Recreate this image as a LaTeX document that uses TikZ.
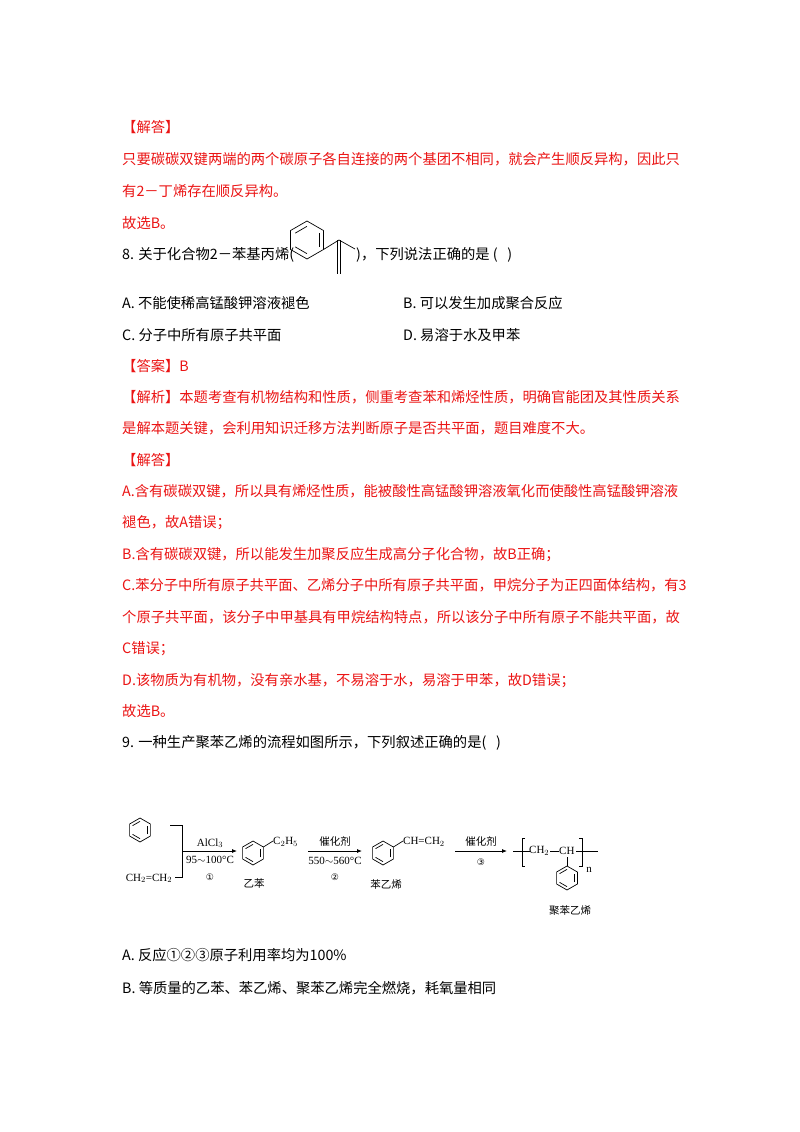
\documentclass[tikz,border=0pt]{standalone}
\usepackage{fontspec}
\setmainfont{Noto Sans CJK SC}
\newfontfamily\chemfont{Liberation Serif}
\newfontfamily\symfont{DejaVu Sans}
\usetikzlibrary{arrows.meta,calc}
\definecolor{ansred}{RGB}{235,20,20}
\tikzset{
  txt/.style={anchor=base west,inner sep=0,font=\fontsize{14.3}{16}\selectfont},
  rtxt/.style={txt,text=ansred},
  chem/.style={inner sep=0,font=\chemfont\fontsize{11}{12}\selectfont},
  circ/.style={inner sep=0,font=\symfont\fontsize{9}{10}\selectfont},
  cjks/.style={inner sep=0,font=\fontsize{10.5}{11}\selectfont},
  bond/.style={line width=0.7pt},
  rxn/.style={line width=0.8pt,-{Latex[length=5pt,width=4pt]}}
}
\newcommand{\benzring}[3]{% cx cy r, pointy top
  \draw[bond] (#1,#2)++(90:#3) -- ++(-30:#3) -- ++(-90:#3) -- ++(-150:#3) -- ++(150:#3) -- ++(90:#3) -- cycle;
  \draw[bond] ($(#1,#2)+(30:0.72*#3)$) -- ($(#1,#2)+(-30:0.72*#3)$);
  \draw[bond] ($(#1,#2)+(-90:0.72*#3)$) -- ($(#1,#2)+(-150:0.72*#3)$);
  \draw[bond] ($(#1,#2)+(150:0.72*#3)$) -- ($(#1,#2)+(90:0.72*#3)$);
}
\begin{document}
\begin{tikzpicture}[x=1pt,y=-1pt]
\useasboundingbox[fill=white] (0,0) rectangle (800,1132);
\node[rtxt] (l1) at (122,132) {【解答】};
\node[rtxt] (l2) at (122,164) {只要碳碳双键两端的两个碳原子各自连接的两个基团不相同，就会产生顺反异构，因此只};
\node[rtxt] (l3) at (122,196) {有2－丁烯存在顺反异构。};
\node[rtxt] (l4) at (122,228) {故选B。};
\node[txt] (q8a) at (122,259) {8. 关于化合物2－苯基丙烯(};
\node[txt] (q8b) at (356,259) {)，下列说法正确的是 (\ \ \ )};
\benzring{307}{240}{19}
\draw[bond] (323.5,249.5) -- (339,240) -- (355,249);
\draw[bond] (337.5,240) -- (337.5,274);
\draw[bond] (340.5,240) -- (340.5,274);
\node[txt] (oA) at (122,308) {A. 不能使稀高锰酸钾溶液褪色};
\node[txt] (oB) at (403,308) {B. 可以发生加成聚合反应};
\node[txt] (oC) at (122,340) {C. 分子中所有原子共平面};
\node[txt] (oD) at (403,340) {D. 易溶于水及甲苯};
\node[rtxt] (l5) at (122,371) {【答案】B};
\node[rtxt] (l6) at (122,402) {【解析】本题考查有机物结构和性质，侧重考查苯和烯烃性质，明确官能团及其性质关系};
\node[rtxt] (l7) at (122,433) {是解本题关键，会利用知识迁移方法判断原子是否共平面，题目难度不大。};
\node[rtxt] (l8) at (122,465) {【解答】};
\node[rtxt] (l9) at (122,496) {A.含有碳碳双键，所以具有烯烃性质，能被酸性高锰酸钾溶液氧化而使酸性高锰酸钾溶液};
\node[rtxt] (l10) at (122,527) {褪色，故A错误；};
\node[rtxt] (l11) at (122,559) {B.含有碳碳双键，所以能发生加聚反应生成高分子化合物，故B正确；};
\node[rtxt] (l12) at (122,590) {C.苯分子中所有原子共平面、乙烯分子中所有原子共平面，甲烷分子为正四面体结构，有3};
\node[rtxt] (l13) at (122,622) {个原子共平面，该分子中甲基具有甲烷结构特点，所以该分子中所有原子不能共平面，故};
\node[rtxt] (l14) at (122,653) {C错误；};
\node[rtxt] (l15) at (122,685) {D.该物质为有机物，没有亲水基，不易溶于水，易溶于甲苯，故D错误；};
\node[rtxt] (l16) at (122,716) {故选B。};
\node[txt] (q9) at (122,747) {9. 一种生产聚苯乙烯的流程如图所示，下列叙述正确的是(\ \ \ )};
% scheme
\benzring{140}{830}{12}
\node[chem,anchor=base] (eth) at (149,881) {CH$_2$=CH$_2$};
\coordinate (j) at (182,851);
\draw[bond] (170,825) -- (182,825) -- (182,877) -- (175,877);
\coordinate (a1e) at (237,851);
\draw[rxn] (j) -- (a1e);
\node[chem] (c1) at (210,843) {AlCl$_3$};
\node[chem] (t1) at (210,860) {95$\sim$100\textdegree C};
\node[circ] (n1) at (210,877) {①};
\benzring{253}{853}{12}
\draw[bond] (263.4,847) -- (273,841);
\node[chem,anchor=west] (et) at (273,842) {C$_2$H$_5$};
\node[cjks] (eb) at (254,883) {乙苯};
\coordinate (a2s) at (308,851); \coordinate (a2e) at (362,851);
\draw[rxn] (a2s) -- (a2e);
\node[cjks] (c2) at (335,841) {催化剂};
\node[chem] (t2) at (335,861) {550$\sim$560\textdegree C};
\node[circ] (n2) at (335,877) {②};
\benzring{383}{853}{12}
\draw[bond] (393.4,847) -- (403,841);
\node[chem,anchor=west] (vi) at (403,842) {CH=CH$_2$};
\node[cjks] (st) at (386,884) {苯乙烯};
\coordinate (a3s) at (455,851); \coordinate (a3e) at (507,851);
\draw[rxn] (a3s) -- (a3e);
\node[cjks] (c3) at (481,841) {催化剂};
\node[circ] (n3) at (481,862) {③};
\draw[bond] (513,851) -- (530,851);
\draw[bond] (525,838) -- (522,838) -- (522,866) -- (525,866);
\node[chem,anchor=west] (ch2) at (529,851) {CH$_2$};
\draw[bond] (550,851) -- (559,851);
\node[chem,anchor=west] (ch) at (559,851) {CH};
\draw[bond] (579,838) -- (582,838) -- (582,866) -- (579,866);
\draw[bond] (576,851) -- (598,851);
\node[chem] (nn) at (589,870) {n};
\draw[bond] (567,857) -- (567,866);
\benzring{567}{878}{12}
\node[cjks] (ps) at (570,911) {聚苯乙烯};
\node[txt] (oA9) at (122,960) {A. 反应①②③原子利用率均为100\%};
\node[txt] (oB9) at (122,993) {B. 等质量的乙苯、苯乙烯、聚苯乙烯完全燃烧，耗氧量相同};
\end{tikzpicture}
\end{document}
